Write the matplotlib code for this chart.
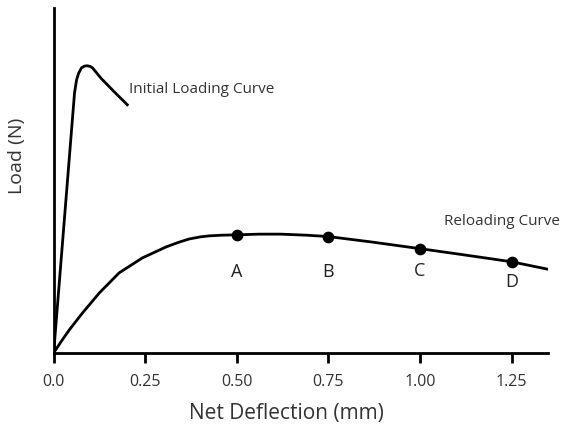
import matplotlib.pyplot as plt

plt.rcParams['font.family'] = ['Open Sans', 'DejaVu Sans']

# Initial loading curve (deflection mm, relative load)
init_x = [0.0, 0.057, 0.0625, 0.068, 0.076, 0.084, 0.092, 0.100, 0.106, 0.130, 0.165, 0.201]
init_y = [0.0, 0.754, 0.791, 0.810, 0.826, 0.831, 0.832, 0.830, 0.826, 0.795, 0.757, 0.719]

# Reloading curve
reload_x = [0.0, 0.02, 0.043, 0.079, 0.125, 0.179, 0.242, 0.307, 0.340, 0.370, 0.400, 0.424, 0.46, 0.50,
            0.56, 0.62, 0.69, 0.75, 0.87, 1.00, 1.12, 1.25, 1.36]
reload_y = [0.0, 0.032, 0.067, 0.116, 0.174, 0.232, 0.275, 0.307, 0.320, 0.330, 0.336, 0.339, 0.341, 0.342,
            0.344, 0.344, 0.341, 0.337, 0.321, 0.302, 0.284, 0.264, 0.240]

# Marked points
pt_x = [0.50, 0.75, 1.00, 1.25]
pt_y = [0.342, 0.337, 0.302, 0.264]
pt_labels = ["A", "B", "C", "D"]
label_off = [-0.107, -0.104, -0.065, -0.06]

xticks = [0.0, 0.25, 0.50, 0.75, 1.00, 1.25]
xtick_labels = ["0.0", "0.25", "0.50", "0.75", "1.00", "1.25"]

fig = plt.figure(figsize=(5.77, 4.34), dpi=100)
ax = fig.add_axes([0.093, 0.187, 0.857, 0.795])

ax.plot(init_x, init_y, color="black", lw=2, solid_joinstyle="round")
ax.plot(reload_x, reload_y, color="black", lw=2, solid_joinstyle="round")
ax.scatter(pt_x, pt_y, s=55, color="black", zorder=3)

for x, y, lab, off in zip(pt_x, pt_y, pt_labels, label_off):
    ax.text(x, y + off, lab, ha="center", va="center", fontsize=13, color="#222222")

ax.text(0.205, 0.762, "Initial Loading Curve", fontsize=11, color="#333333", va="center")
ax.text(1.065, 0.38, "Reloading Curve", fontsize=11, color="#333333", va="center")

ax.set_xlim(0, 1.35)
ax.set_ylim(0, 1.0)
ax.set_xticks(xticks)
ax.set_xticklabels(xtick_labels, fontsize=11.5, color="#333333")
ax.set_yticks([])
ax.tick_params(axis="x", length=7, width=2, direction="out", pad=8)

for s in ["top", "right"]:
    ax.spines[s].set_visible(False)
for s in ["left", "bottom"]:
    ax.spines[s].set_linewidth(2)

ax.set_xlabel("Net Deflection (mm)", fontsize=15, color="#333333")
ax.xaxis.set_label_coords(0.47, -0.145)
ax.set_ylabel("Load (N)", fontsize=14, color="#333333")
ax.yaxis.set_label_coords(-0.055, 0.57)

fig.savefig("out.png", dpi=100)
